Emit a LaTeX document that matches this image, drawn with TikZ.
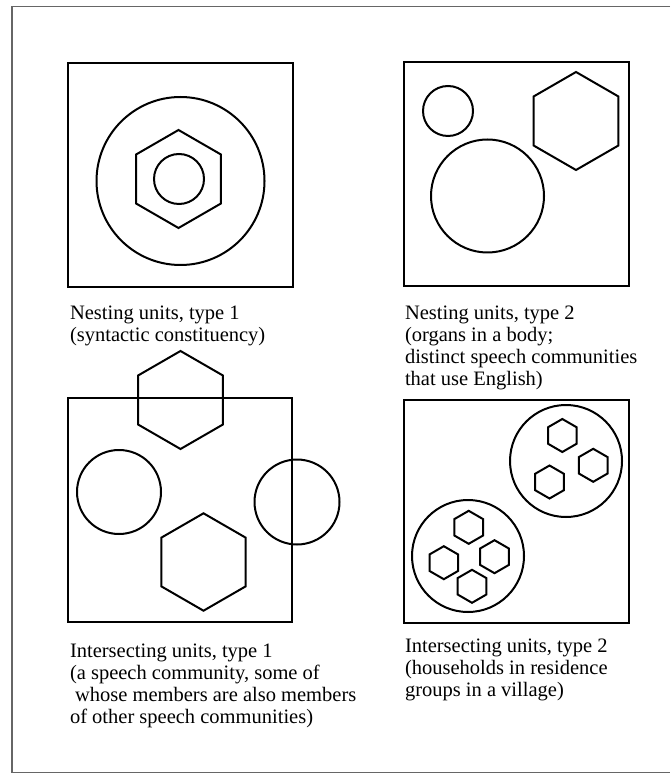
\documentclass[tikz,border=0pt]{standalone}
\usepackage{fontspec}
\setmainfont{Liberation Serif}
\usetikzlibrary{shapes.geometric}

\begin{document}
\begin{tikzpicture}[x=0.5pt, y=-0.5pt,
  every node/.style={inner sep=0pt, outer sep=0pt},
  unitbox/.style={draw, line width=1.3pt},
  ring/.style={draw, circle, line width=1pt},
  hexa/.style={draw, regular polygon, regular polygon sides=6, shape border rotate=30, line width=1pt},
  note/.style={anchor=north west, align=left, font=\fontsize{10.25}{11}\selectfont}]
  \useasboundingbox (0,0) rectangle (670,774);
  \draw[black!60, line width=0.6pt] (670,6.5) -- (12,6.5) -- (12,772.5) -- (670,772.5);
  % nesting units, type 1
  \node[unitbox, minimum width=112.5pt, minimum height=112pt] (box1) at (180.5,175) {};
  \node[ring, minimum size=84pt] (n1) at (180.5,181) {};
  \node[hexa, minimum size=49pt] (n2) at (178.5,179) {};
  \node[ring, minimum size=25pt] (n3) at (179,179) {};
  \node[note] (t1) at (70,306) {Nesting units, type 1\\(syntactic constituency)};
  % nesting units, type 2
  \node[unitbox, minimum width=112.5pt, minimum height=112pt] (box2) at (516.5,174) {};
  \node[ring, minimum size=25pt] (m1) at (448,111) {};
  \node[ring, minimum size=56.5pt] (m2) at (487.5,196) {};
  \node[hexa, minimum size=49pt] (m3) at (576,121) {};
  \node[note] (t2) at (405,306) {Nesting units, type 2\\(organs in a body;\\distinct speech communities\\that use English)};
  % intersecting units, type 1
  \node[unitbox, minimum width=112pt, minimum height=112pt] (box3) at (180,510) {};
  \node[hexa, minimum size=49pt] (i1) at (180.5,400) {};
  \node[ring, minimum size=42pt] (i2) at (119,492) {};
  \node[hexa, minimum size=48.7pt] (i3) at (203.5,562) {};
  \node[ring, minimum size=42.5pt] (i4) at (297,502) {};
  \node[note] (t3) at (70,644) {Intersecting units, type 1\\(a speech community, some of\\\ whose members are also members\\of other speech communities)};
  % intersecting units, type 2
  \node[unitbox, minimum width=112.5pt, minimum height=111.5pt] (box4) at (516.5,511.5) {};
  \node[ring, minimum size=56pt] (g1) at (566,461) {};
  \node[ring, minimum size=56pt] (g2) at (468,556) {};
  \node[hexa, minimum size=16.5pt] (h1) at (562.3,435.5) {};
  \node[hexa, minimum size=16.5pt] (h2) at (593.2,465.3) {};
  \node[hexa, minimum size=16.5pt] (h3) at (549.5,482) {};
  \node[hexa, minimum size=16.5pt] (h4) at (468.7,527.3) {};
  \node[hexa, minimum size=16.5pt] (h5) at (443.8,562.7) {};
  \node[hexa, minimum size=16.5pt] (h6) at (494.5,556.7) {};
  \node[hexa, minimum size=16.5pt] (h7) at (472,586.3) {};
  \node[note] (t4) at (405,639) {Intersecting units, type 2\\(households in residence\\groups in a village)};
\end{tikzpicture}
\end{document}
